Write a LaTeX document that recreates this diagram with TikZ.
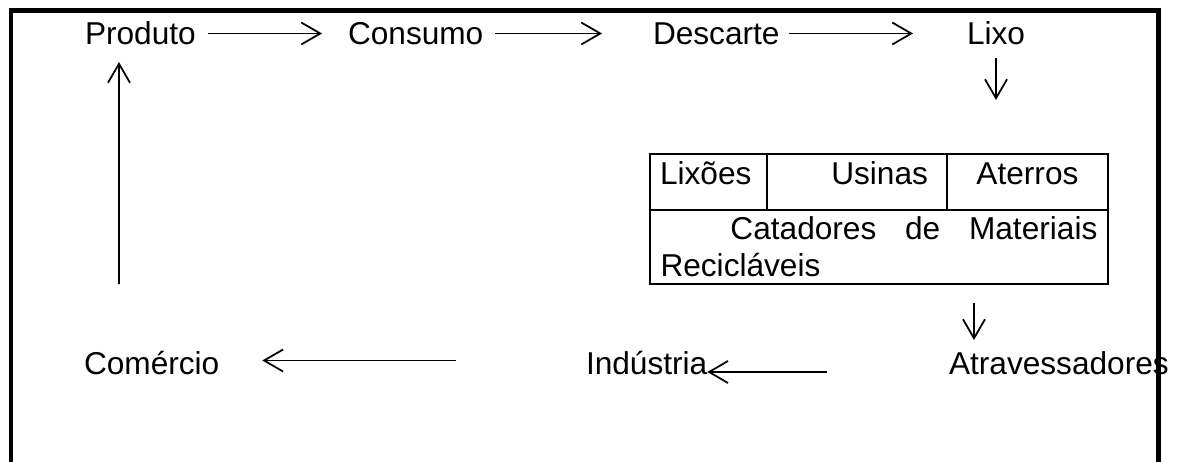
\documentclass[tikz,border=0pt]{standalone}
\usepackage{fontspec}
\setmainfont{Liberation Sans}
\usetikzlibrary{positioning,arrows.meta}

\tikzset{
  lbl/.style={inner sep=0pt, outer sep=0pt, anchor=base west, text height=0.46cm, text depth=0pt},
  seta/.style={-{Straight Barb[length=0.38cm,width=0.44cm]}, line width=1pt},
  celula/.style={draw, line width=1pt, inner ysep=0pt, outer sep=0pt, anchor=north west, text height=0.62cm, text depth=0.5cm}
}

\begin{document}
\begin{tikzpicture}[x=0.02cm,y=-0.02cm,font=\fontsize{18}{21}\selectfont]
  \useasboundingbox (0,0) rectangle (1177,462);

  % linha de cima
  \node[lbl] (produto) at (85,45) {Produto};
  \node[lbl] (consumo) at (348,45) {Consumo};
  \node[lbl] (descarte) at (653,45) {Descarte};
  \node[lbl] (lixo) at (967,45) {Lixo};

  % tabela
  \node[celula, text width=1.94cm, inner xsep=0.2cm, align=left] (lixoes) at (650,154) {Lixões};
  \node[celula, text width=2.84cm, inner xsep=0.38cm, align=right, right=0pt of lixoes] (usinas) {Usinas};
  \node[celula, text width=3.22cm, inner xsep=0pt, align=center, right=0pt of usinas] (aterros) {Aterros};
  \node[celula, text width=8.74cm, inner xsep=0.21cm, align=justify, text height=0.6cm, text depth=0.88cm] (catadores) at (lixoes.south west) {\hspace*{1.4cm}Catadores de Materiais\linebreak Recicláveis};

  % linha de baixo
  \node[lbl] (atrav) at (949,375) {Atravessadores};
  \node[lbl] (industria) at (586,375) {Indústria};
  \node[lbl] (comercio) at (84,375) {Comércio};

  \draw[seta, shorten <=0.24cm, shorten >=0.52cm] (produto) -- (consumo);
  \draw[seta, shorten <=0.24cm, shorten >=1.02cm] (consumo) -- (descarte);
  \draw[seta, shorten <=0.18cm, shorten >=1.08cm] (descarte) -- (lixo);
  \draw[seta, shorten <=0.26cm, shorten >=1.08cm] (lixo.south) -- (lixo.south |- aterros.north);
  \draw[seta, shorten <=0.38cm, shorten >=0.24cm] ([xshift=0.5cm]atrav.north west |- catadores.south) -- ([xshift=0.5cm]atrav.north west);
  \draw[seta, shorten <=2.44cm] ([yshift=-0.17cm]atrav.west) -- ([yshift=-0.17cm]industria.east);
  \draw[seta, shorten <=2.6cm, shorten >=0.86cm] ([yshift=0.06cm]industria.west) -- ([yshift=0.06cm]comercio.east);
  \draw[seta, shorten <=1.36cm, shorten >=0.34cm] ([xshift=0.7cm]comercio.north west) -- ([xshift=0.68cm]produto.south west);

  % moldura
  \draw[line width=0.09cm] (11,462) -- (11,10.5) -- (1158.5,10.5) -- (1158.5,462);
\end{tikzpicture}
\end{document}
